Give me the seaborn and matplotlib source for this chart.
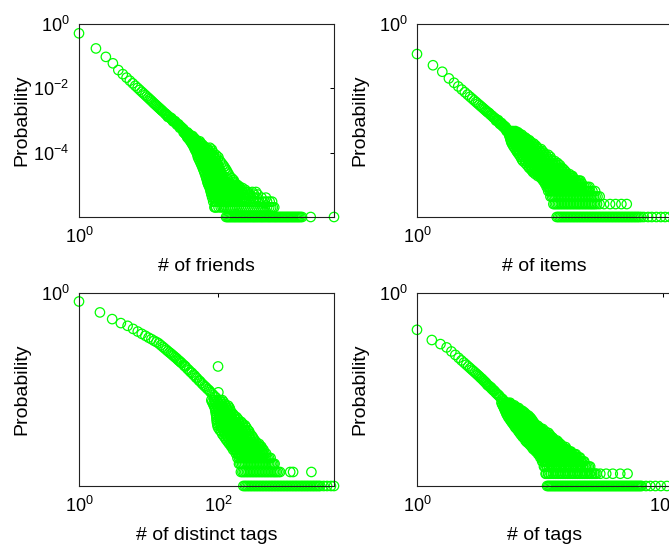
import numpy as np
import pandas as pd
import matplotlib
matplotlib.use('Agg')
import matplotlib.pyplot as plt
import seaborn as sns
from matplotlib.ticker import FixedLocator, NullLocator, LogFormatterSciNotation

# ---- number of friends: (degree, users) for the smooth head, total users
friends_total = 1e6
friends_head = [
    (1, 513000), (2, 174000), (3, 95000), (4, 60000), (5, 37000), (6, 27600), (7, 21500),
    (8, 17300), (9, 14300), (10, 12000), (11, 10300), (12, 8930), (13, 7840), (14, 6950),
    (15, 6210), (16, 5590), (17, 5070), (18, 4620), (19, 4230), (20, 3890), (21, 3550),
    (22, 3310), (23, 3080), (24, 2880), (25, 2690), (26, 2530), (27, 2380), (28, 2250),
    (29, 2120), (30, 2010), (31, 1910), (33, 1730), (34, 1640), (35, 1590), (36, 1480),
    (37, 1460), (38, 1290), (39, 1340), (40, 1290), (42, 1200), (43, 1160), (44, 1180),
    (45, 1060), (46, 1040), (47, 940), (48, 990), (50, 920), (51, 950), (52, 860), (54, 820),
    (55, 740), (56, 770), (58, 730), (59, 760), (60, 680), (62, 590), (63, 650), (65, 600),
    (66, 620), (68, 570), (70, 520), (72, 540),
]
# (users, [degrees having that many users]) for the noisy tail
friends_rows = [
    (430, [72, 78, 84]),
    (395, [76, 82, 88]),
    (360, [80, 86, 92]),
    (330, [82, 89, 96, 104]),
    (300, [84, 92, 100, 108]),
    (275, [88, 96, 105, 114]),
    (250, [92, 100, 110, 120]),
    (225, [96, 105, 116, 128, 140]),
    (200, [100, 110, 122, 135, 145]),
    (180, [104, 115, 128, 141, 155]),
    (160, [108, 120, 133, 148, 165]),
    (142, [112, 124, 137, 150, 167, 186, 212]),
    (125, [115, 128, 142, 158, 176, 196, 230]),
    (110, [120, 133, 148, 165, 184, 205, 232]),
    (95, [125, 138, 154, 172, 192, 215, 250]),
    (83, [128, 141, 158, 176, 196, 220, 240, 275]),
    (72, [130, 145, 162, 180, 200, 225, 255, 300]),
    (63, [135, 150, 168, 187, 208, 233, 262, 290]),
    (55, [140, 156, 174, 194, 216, 242, 272, 320]),
    (48, [145, 161, 180, 200, 224, 251, 282, 340]),
    (42, [150, 167, 186, 207, 232, 260, 292, 360]),
    (37, [155, 172, 192, 213, 239, 268, 300, 380]),
    (32, [160, 178, 198, 220, 246, 276, 310, 400]),
    (28, [165, 184, 205, 228, 255, 286, 322, 420]),
    (24, [170, 190, 212, 236, 264, 296, 335, 440]),
    (21, [175, 195, 218, 243, 272, 305, 348, 460]),
    (18, [180, 200, 224, 250, 280, 315, 360, 480]),
    (16, [184, 205, 230, 256, 287, 322, 370, 430, 520]),
    (14, [188, 210, 235, 262, 294, 330, 380, 440, 560]),
    (12, [192, 215, 240, 268, 300, 337, 390, 455, 580]),
    (11, [196, 220, 246, 275, 308, 345, 400, 470, 600]),
    (10, [200, 225, 252, 281, 315, 353, 405, 475, 610, 650]),
    (9, [205, 230, 258, 288, 322, 362, 410, 480, 620, 700]),
    (9, [218, 244, 273, 305, 342, 385, 445, 550, 660]),
    (8, [212, 240, 270, 305, 345, 390, 440, 520, 640, 800]),
    (8, [226, 255, 287, 325, 367, 415, 480, 580, 720]),
    (7, [215, 245, 280, 320, 360, 410, 470, 560, 680, 900]),
    (7, [230, 262, 300, 340, 385, 440, 515, 620, 780]),
    (6, [220, 250, 285, 325, 370, 420, 480, 560, 660, 800, 1000, 1400]),
    (6, [235, 267, 305, 347, 395, 450, 520, 610, 730, 900, 1200]),
    (5, [225, 255, 290, 330, 380, 440, 510, 600, 720, 880, 1100, 1500]),
    (5, [240, 272, 310, 355, 410, 475, 555, 660, 800, 980, 1300]),
    (4, [233, 265, 300, 345, 400, 460, 540, 640, 760, 920, 1150, 1450, 2100]),
    (4, [249, 282, 322, 372, 430, 500, 590, 700, 840, 1030, 1300, 1750]),
    (3, [243, 275, 315, 360, 415, 480, 560, 660, 780, 940, 1150, 1400, 1800, 2200, 2700]),
    (3, [259, 295, 337, 387, 447, 520, 610, 720, 860, 1040, 1270, 1600, 2000, 2450]),
    (2, [255, 275, 330, 380, 440, 510, 590, 690, 810, 950, 1120, 1320, 1560, 1850, 2200,
         2600, 2950]),
    (2, [265, 302, 355, 410, 475, 550, 640, 750, 880, 1030, 1220, 1440, 1700, 2000, 2400,
         2780]),
    (1, [411, 432, 454, 477, 501, 526, 553, 581, 610, 641, 673, 707, 743, 780, 820, 861,
         905, 950, 998, 1050, 1100, 1160, 1220, 1280, 1340, 1410, 1480, 1560, 1640, 1720,
         1800, 1890, 1990, 2090, 2200, 2310, 2420, 2540, 2670, 2810, 2950, 3100, 3250, 3420,
         3590, 3770, 3960, 4160, 4370, 4590, 4820, 5060, 5310, 5580, 5860, 6150, 6460, 6790,
         7130, 7490, 7860, 8250, 8700, 9200, 13100, 34000]),
]

# ---- number of items
items_total = 31000
items_head = [
    (1, 6200), (2, 3400), (3, 2400), (4, 1680), (5, 1330), (6, 1092), (7, 924), (8, 801),
    (9, 705), (10, 629), (11, 568), (12, 516), (13, 474), (14, 437), (15, 406), (16, 379),
    (17, 355), (18, 334), (19, 315), (20, 298), (21, 282), (22, 269), (23, 262), (24, 245),
    (25, 234), (26, 228), (27, 214), (28, 208), (29, 199), (30, 196), (31, 175), (32, 178),
    (33, 176), (34, 180), (35, 163), (36, 152), (37, 145), (38, 148), (39, 155), (40, 141),
    (41, 132), (42, 128), (43, 137), (44, 126), (45, 118), (46, 116), (47, 125), (48, 113),
    (49, 100), (50, 110),
]
items_rows = [
    (100, [52, 58, 64, 72]),
    (94, [53, 59, 66, 73, 80]),
    (88, [54, 60, 67, 75, 84]),
    (82, [55, 62, 69, 77, 86, 95]),
    (76, [56, 63, 70, 78, 88, 98]),
    (71, [57, 64, 72, 80, 90, 101, 110]),
    (66, [58, 65, 73, 82, 92, 104, 118]),
    (61, [59, 66, 75, 84, 95, 107, 121, 132]),
    (56, [60, 68, 76, 86, 97, 110, 125, 140]),
    (51, [62, 70, 79, 89, 101, 114, 130, 147, 160]),
    (46, [65, 73, 82, 93, 105, 119, 135, 155, 175]),
    (42, [68, 77, 87, 98, 111, 126, 143, 163, 185]),
    (38, [72, 81, 92, 104, 118, 134, 152, 172, 196, 220]),
    (34, [76, 85, 97, 110, 125, 142, 161, 183, 208, 235]),
    (31, [80, 90, 102, 116, 132, 150, 170, 194, 220, 250]),
    (28, [85, 96, 109, 124, 141, 160, 182, 207, 235, 268, 300]),
    (25, [90, 102, 116, 132, 150, 170, 194, 220, 250, 285, 330]),
    (22, [95, 107, 122, 138, 157, 179, 204, 232, 264, 300, 340]),
    (20, [100, 113, 128, 145, 165, 188, 214, 244, 278, 316, 360, 400]),
    (18, [110, 125, 142, 161, 183, 208, 237, 270, 307, 350, 398, 450]),
    (16, [120, 136, 155, 176, 200, 228, 260, 296, 337, 384, 437, 500]),
    (14, [130, 148, 168, 191, 218, 248, 282, 321, 366, 417, 475, 540]),
    (13, [140, 160, 182, 207, 236, 268, 305, 347, 395, 450, 512, 580]),
    (12, [148, 168, 192, 218, 249, 283, 322, 367, 418, 475, 540, 615]),
    (11, [155, 177, 202, 230, 262, 298, 340, 387, 440, 500, 570, 650]),
    (10, [170, 194, 221, 252, 287, 327, 372, 424, 483, 550, 626, 750]),
    (9, [190, 216, 246, 280, 319, 363, 413, 470, 535, 610, 700, 820]),
    (9, [205, 233, 265, 300, 341, 388, 441, 502, 572, 655, 760, 860]),
    (8, [220, 250, 285, 325, 370, 420, 480, 545, 620, 710, 810, 900]),
    (7, [240, 273, 311, 354, 403, 459, 522, 595, 677, 771, 880, 1000, 1150]),
    (7, [250, 292, 332, 378, 430, 490, 558, 635, 723, 824, 940, 1075, 1220]),
    (6, [260, 296, 337, 384, 437, 498, 567, 645, 735, 836, 952, 1080, 1300]),
    (6, [278, 316, 360, 410, 467, 532, 606, 690, 785, 894, 1015, 1190]),
    (5, [280, 318, 362, 412, 470, 535, 609, 693, 790, 900, 1020, 1170, 1330, 1550, 1800]),
    (5, [299, 340, 387, 441, 502, 572, 651, 741, 844, 960, 1095, 1250, 1440, 1670]),
    (4, [300, 342, 390, 444, 505, 575, 655, 746, 850, 968, 1100, 1250, 1430, 1630, 1850,
         2300]),
    (4, [321, 366, 417, 474, 540, 615, 700, 797, 908, 1035, 1175, 1340, 1530, 1740, 2050]),
    (3, [330, 376, 428, 488, 555, 632, 720, 820, 934, 1060, 1210, 1380, 1570, 1790, 2040,
         2350, 2800]),
    (3, [352, 401, 457, 521, 593, 676, 770, 877, 1000, 1135, 1295, 1475, 1680, 1910, 2190,
         2550]),
    (2, [375, 427, 486, 553, 630, 717, 816, 930, 1060, 1200, 1370, 1560, 1780, 2020, 2300,
         2800, 3400, 4400, 5600, 7200, 9100]),
    (2, [400, 456, 519, 591, 673, 766, 873, 995, 1130, 1285, 1465, 1670, 1900, 2160, 2500]),
    (1, [433, 461, 491, 523, 557, 593, 632, 673, 717, 763, 813, 866, 922, 982, 1046, 1114,
         1186, 1263, 1345, 1433, 1526, 1625, 1730, 1843, 1963, 2090, 2226, 2371, 2525, 2689,
         2864, 3050, 3248, 3459, 3684, 3923, 4178, 4450, 4739, 5047, 5375, 5725, 6097, 6493,
         6915, 7365, 7843, 8353, 8896, 9474, 10090, 10746, 11444, 12188, 12980, 13824, 14722,
         15679, 17000, 19000, 23000, 27000, 33000, 40000, 48000, 59000]),
]

# ---- number of distinct tags
dtags_total = 14000
dtags_head = [
    (1, 9200), (2, 5360), (3, 3850), (4, 3160), (5, 2760), (6, 2370), (7, 2080), (8, 1860),
    (9, 1690), (10, 1540), (11, 1430), (12, 1320), (13, 1240), (14, 1160), (15, 1060),
    (16, 980), (17, 908), (18, 844), (19, 787), (20, 738), (21, 700), (22, 655), (23, 622),
    (24, 586), (25, 560), (26, 528), (27, 500), (28, 481), (29, 455), (30, 437), (32, 400),
    (33, 378), (34, 370), (36, 332), (38, 310), (40, 283), (42, 270), (44, 246), (46, 236),
    (48, 215), (50, 205), (53, 185), (55, 178), (58, 162), (61, 150), (64, 140), (67, 132),
    (70, 122), (74, 115), (77, 106), (81, 98), (85, 91), (89, 84), (93, 80), (100, 370),
    (101, 103),
]
dtags_rows = [
    (70, [80, 88, 97, 106, 115]),
    (64, [82, 91, 100, 110, 120]),
    (58, [85, 94, 104, 114, 125]),
    (53, [87, 96, 106, 117, 129, 140]),
    (48, [90, 100, 110, 121, 133, 146]),
    (44, [91, 101, 112, 123, 135, 149]),
    (40, [92, 102, 113, 125, 138, 152]),
    (36, [93, 103, 114, 126, 139, 153, 162]),
    (33, [94, 104, 115, 127, 140, 155, 170]),
    (30, [95, 105, 116, 128, 142, 157, 174, 185]),
    (27, [95, 106, 118, 130, 144, 160, 178, 195]),
    (24, [96, 107, 119, 132, 146, 162, 180, 199, 214]),
    (22, [97, 108, 120, 134, 149, 165, 183, 203, 225]),
    (20, [98, 110, 122, 137, 152, 168, 186, 206, 228, 245]),
    (18, [100, 112, 125, 140, 155, 172, 190, 210, 232, 256]),
    (16, [105, 117, 131, 146, 162, 180, 198, 220, 243, 268]),
    (15, [110, 123, 137, 152, 169, 187, 207, 229, 253, 280]),
    (13, [115, 128, 143, 158, 176, 195, 216, 239, 264, 292]),
    (12, [120, 134, 149, 165, 183, 203, 225, 249, 276, 306]),
    (11, [125, 140, 155, 171, 190, 210, 233, 258, 286, 318]),
    (10, [130, 145, 161, 178, 197, 218, 241, 267, 296, 330]),
    (9, [137, 153, 170, 187, 207, 229, 254, 281, 312, 350]),
    (8, [145, 161, 178, 197, 218, 241, 267, 296, 330, 370]),
    (8, [152, 169, 187, 207, 229, 254, 281, 312, 350, 390]),
    (7, [155, 172, 190, 210, 232, 257, 284, 314, 348, 385, 420]),
    (7, [163, 181, 200, 221, 244, 270, 299, 331, 366, 402]),
    (6, [165, 183, 202, 223, 247, 273, 302, 334, 369, 408, 450]),
    (6, [174, 192, 212, 235, 260, 287, 318, 351, 388, 430]),
    (5, [180, 199, 220, 243, 269, 297, 328, 363, 401, 443, 490]),
    (5, [189, 209, 231, 256, 283, 312, 345, 382, 422, 466]),
    (4, [190, 210, 232, 256, 283, 313, 346, 382, 422, 466, 515, 570]),
    (4, [200, 221, 244, 269, 298, 329, 364, 402, 444, 490, 542]),
    (3, [200, 221, 244, 270, 298, 329, 364, 402, 444, 491, 542, 600, 650]),
    (3, [210, 232, 257, 284, 313, 346, 383, 423, 467, 516, 570, 625]),
    (2, [213, 235, 260, 287, 317, 350, 387, 428, 473, 522, 577, 638, 700, 780, 1090, 1200,
         2200]),
    (2, [224, 247, 273, 302, 333, 368, 407, 450, 497, 549, 607, 668, 740]),
    (1, [231, 243, 255, 268, 282, 296, 311, 327, 344, 361, 380, 399, 420, 441, 464, 488,
         513, 539, 567, 596, 627, 659, 693, 729, 766, 805, 846, 890, 935, 983, 1030, 1085,
         1140, 1200, 1260, 1325, 1390, 1465, 1540, 1620, 1700, 1790, 1880, 1975, 2080, 2185,
         2300, 2415, 2540, 2670, 2810, 2950, 3300, 3700, 4200, 4650]),
]

# ---- number of tags
tags_total = 54000
tags_head = [
    (1, 6760), (2, 3800), (3, 3020), (4, 2500), (5, 1990), (6, 1640), (7, 1390), (8, 1200),
    (9, 1060), (10, 945), (11, 854), (12, 777), (13, 712), (14, 658), (15, 611), (16, 569),
    (17, 533), (18, 501), (19, 470), (20, 440), (21, 425), (22, 393), (23, 380), (24, 353),
    (25, 345), (26, 321), (27, 300), (28, 294), (29, 285), (30, 270), (32, 262), (33, 240),
    (35, 232), (36, 217), (38, 212), (40, 191), (42, 185), (44, 171), (46, 168), (48, 154),
    (50, 148), (53, 136), (55, 135), (58, 122),
]
tags_rows = [
    (110, [52, 58, 64, 70, 78]),
    (102, [54, 60, 66, 73, 80]),
    (95, [55, 61, 68, 76, 85, 95]),
    (88, [57, 64, 71, 79, 89, 99]),
    (82, [59, 66, 74, 83, 93, 104, 116]),
    (76, [60, 68, 76, 85, 95, 107, 120]),
    (70, [62, 70, 78, 88, 98, 110, 123, 138]),
    (64, [64, 72, 80, 90, 101, 113, 127, 142, 152]),
    (58, [66, 74, 83, 93, 104, 117, 131, 147, 165]),
    (53, [69, 77, 87, 97, 109, 122, 137, 153, 172, 185]),
    (48, [72, 81, 91, 102, 114, 128, 143, 160, 180, 200]),
    (44, [76, 85, 96, 107, 120, 135, 151, 169, 190, 212]),
    (40, [80, 90, 101, 113, 127, 142, 159, 178, 200, 224]),
    (36, [85, 95, 107, 120, 134, 150, 168, 189, 212, 237]),
    (33, [90, 101, 113, 127, 142, 159, 178, 200, 224, 250]),
    (30, [95, 106, 119, 134, 150, 168, 188, 211, 236, 264, 285]),
    (27, [100, 112, 126, 141, 158, 177, 198, 222, 249, 279, 310]),
    (25, [107, 120, 135, 151, 169, 189, 212, 238, 266, 298, 334, 360]),
    (22, [115, 129, 144, 161, 181, 202, 227, 254, 284, 318, 356, 400]),
    (20, [122, 137, 153, 172, 193, 216, 242, 271, 303, 340, 380, 425, 470]),
    (18, [130, 146, 163, 183, 205, 229, 257, 288, 322, 361, 404, 450, 500]),
    (16, [140, 157, 176, 197, 220, 247, 277, 310, 347, 389, 435, 488, 545]),
    (15, [150, 168, 188, 211, 236, 264, 296, 332, 371, 416, 466, 520, 580]),
    (13, [160, 179, 201, 225, 252, 282, 316, 354, 396, 444, 497, 556, 620, 700]),
    (12, [170, 190, 213, 239, 267, 299, 335, 376, 421, 471, 528, 590, 660, 740]),
    (11, [185, 207, 232, 260, 291, 326, 365, 409, 458, 513, 575, 645, 720, 800]),
    (10, [200, 224, 251, 281, 315, 353, 395, 442, 495, 555, 622, 700, 780, 870]),
    (9, [215, 241, 270, 302, 338, 379, 424, 475, 532, 596, 668, 750, 840, 935, 1050]),
    (8, [230, 258, 289, 323, 362, 406, 454, 509, 570, 638, 715, 800, 900, 1000, 1100]),
    (8, [244, 273, 306, 343, 384, 430, 481, 539, 604, 676, 757, 850, 950, 1050]),
    (7, [260, 291, 326, 365, 409, 458, 513, 575, 644, 721, 808, 905, 1010, 1140, 1280]),
    (7, [275, 308, 345, 387, 433, 485, 543, 609, 682, 764, 856, 958, 1075, 1210, 1350]),
    (6, [290, 325, 364, 408, 457, 512, 573, 642, 719, 805, 902, 1010, 1130, 1270, 1420,
         1600]),
    (6, [305, 342, 383, 429, 480, 538, 602, 675, 756, 846, 948, 1062, 1190, 1330, 1490,
         1700]),
    (5, [320, 358, 401, 449, 503, 564, 631, 707, 792, 887, 994, 1110, 1250, 1400, 1560,
         1750, 1960]),
    (5, [335, 375, 420, 471, 527, 590, 661, 741, 830, 929, 1040, 1165, 1305, 1460, 1640,
         1840, 2050]),
    (4, [350, 392, 439, 492, 551, 617, 691, 774, 867, 971, 1090, 1220, 1360, 1530, 1710,
         1920, 2150, 2400]),
    (4, [365, 409, 458, 513, 575, 644, 721, 807, 904, 1012, 1134, 1270, 1422, 1593, 1784,
         1998, 2240, 2500]),
    (3, [380, 426, 477, 534, 598, 670, 750, 840, 941, 1050, 1180, 1320, 1480, 1660, 1860,
         2080, 2330, 2610, 2900, 3300]),
    (3, [395, 442, 495, 555, 621, 696, 779, 873, 977, 1095, 1226, 1373, 1538, 1722, 1929,
         2160, 2420, 2710, 3100]),
    (2, [410, 460, 515, 577, 646, 724, 811, 908, 1020, 1140, 1280, 1430, 1600, 1790, 2010,
         2250, 2520, 2820, 3160, 3540, 3960, 4500, 5300, 7000, 9500, 13500, 19000]),
    (2, [425, 476, 533, 597, 669, 749, 839, 940, 1053, 1179, 1321, 1479, 1657, 1855, 2078,
         2327, 2606, 2920, 3270, 3660, 4200]),
    (1, [440, 466, 494, 524, 555, 589, 624, 661, 701, 743, 788, 835, 885, 938, 995, 1055,
         1118, 1185, 1256, 1331, 1411, 1496, 1586, 1681, 1782, 1889, 2000, 2120, 2250, 2385,
         2530, 2680, 2840, 3010, 3190, 3380, 3580, 3800, 4030, 4270, 4530, 4800, 5090, 5390,
         5720, 6060, 6420, 6810, 7220, 7650, 8110, 8600, 9110, 9660, 10240, 10850, 11500,
         12190, 12920, 13700, 14520, 15390, 16320, 17300, 18330, 19430, 20600, 21840, 23150,
         24540, 26000, 27600, 29200, 31000, 32800, 34800, 36900, 45000, 55000, 70000, 90000,
         120000]),
]

x_labels = ['# of friends', '# of items', '# of distinct tags', '# of tags']
x_max = [34000, 65000, 4650, 152000]
x_ticks = [[1], [1], [1, 1e2], [1, 1e5]]
y_ticks = [[1, 1e-2, 1e-4], [1], [1], [1]]


def build_frame(head, rows, total):
    xs = [h[0] for h in head]
    cs = [h[1] for h in head]
    for count, degrees in rows:
        xs += degrees
        cs += [count] * len(degrees)
    return pd.DataFrame({'x': xs, 'p': np.array(cs, dtype=float) / total})


frames = [
    (build_frame(friends_head, friends_rows, friends_total), friends_total),
    (build_frame(items_head, items_rows, items_total), items_total),
    (build_frame(dtags_head, dtags_rows, dtags_total), dtags_total),
    (build_frame(tags_head, tags_rows, tags_total), tags_total),
]

sns.set_theme(style='white')
plt.rcParams['font.family'] = ['Liberation Sans', 'DejaVu Sans']
plt.rcParams['mathtext.fontset'] = 'custom'
plt.rcParams['mathtext.rm'] = 'Liberation Sans'
plt.rcParams['mathtext.it'] = 'Liberation Sans:italic'
plt.rcParams['mathtext.bf'] = 'Liberation Sans:bold'

W, H = 669, 545
fig = plt.figure(figsize=(W / 100, H / 100), dpi=100)
fig.patch.set_facecolor('white')

# axes boxes in pixels: left, top, right, bottom (right column runs past the edge)
boxes = [(79, 24, 334, 217), (417, 24, 672, 217), (79, 293, 334, 486), (417, 293, 672, 486)]

for i, (df, total) in enumerate(frames):
    l, t, r, b = boxes[i]
    ax = fig.add_axes([l / W, 1 - b / H, (r - l) / W, (b - t) / H])
    sns.scatterplot(data=df, x='x', y='p', ax=ax, marker='o', s=46,
                    facecolor='none', edgecolor='#00ff00', linewidth=0.9,
                    clip_on=False, legend=False)
    ax.set_xscale('log')
    ax.set_yscale('log')
    ax.set_xlim(1, x_max[i])
    ax.set_ylim(1 / total, 1)
    ax.xaxis.set_major_locator(FixedLocator(x_ticks[i]))
    ax.yaxis.set_major_locator(FixedLocator(y_ticks[i]))
    ax.xaxis.set_major_formatter(LogFormatterSciNotation())
    ax.yaxis.set_major_formatter(LogFormatterSciNotation())
    ax.xaxis.set_minor_locator(NullLocator())
    ax.yaxis.set_minor_locator(NullLocator())
    ax.tick_params(which='both', direction='in', top=True, right=True, length=3,
                   width=0.75, color='black', labelsize=13, pad=7, labelcolor='black')
    for sp in ax.spines.values():
        sp.set_color('#222222')
        sp.set_linewidth(0.8)
    ax.set_xlabel(x_labels[i], fontsize=14, labelpad=8, color='black')
    ax.set_ylabel('Probability', fontsize=14, color='black')
    ax.yaxis.set_label_coords(-49 / 255, 0.5)
    ax.set_facecolor('white')

fig.savefig('out.png', dpi=100)
